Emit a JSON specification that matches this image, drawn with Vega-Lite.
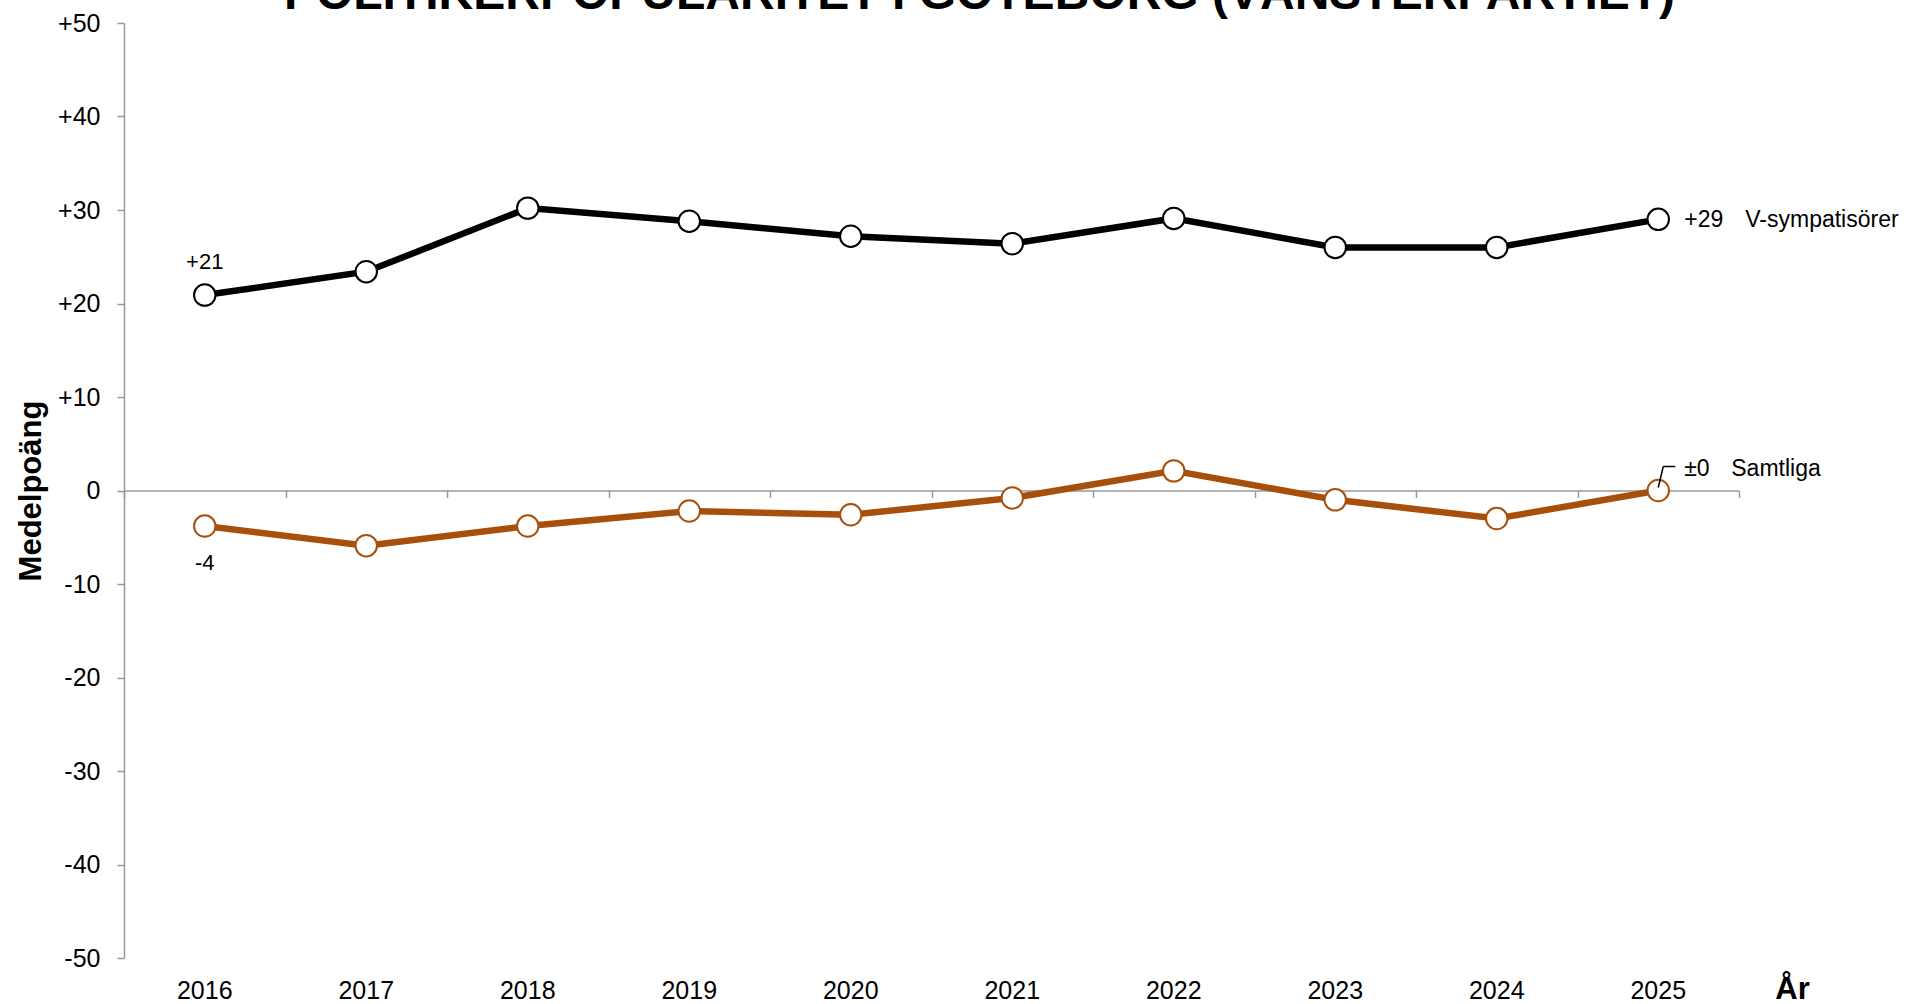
{
  "$schema": "https://vega.github.io/schema/vega-lite/v6.json",
  "width": 1615,
  "height": 935,
  "autosize": {"type": "none"},
  "padding": {"left": 124, "top": 23, "right": 180, "bottom": 46},
  "background": "white",
  "config": {
    "font": "Liberation Sans",
    "view": {"stroke": null},
    "text": {"font": "Liberation Sans", "color": "black"}
  },
  "title": {
    "text": "POLITIKERPOPULARITET I GÖTEBORG (VÄNSTERPARTIET)",
    "font": "Liberation Sans",
    "fontSize": 48,
    "fontWeight": "bold",
    "color": "black",
    "anchor": "middle",
    "frame": "group",
    "dx": 48,
    "offset": -46,
    "baseline": "alphabetic"
  },
  "datasets": {
    "series": [
      {"year": 2016, "series": "V-sympatisörer", "value": 20.9},
      {"year": 2017, "series": "V-sympatisörer", "value": 23.4},
      {"year": 2018, "series": "V-sympatisörer", "value": 30.2},
      {"year": 2019, "series": "V-sympatisörer", "value": 28.8},
      {"year": 2020, "series": "V-sympatisörer", "value": 27.2},
      {"year": 2021, "series": "V-sympatisörer", "value": 26.4},
      {"year": 2022, "series": "V-sympatisörer", "value": 29.1},
      {"year": 2023, "series": "V-sympatisörer", "value": 26.0},
      {"year": 2024, "series": "V-sympatisörer", "value": 26.0},
      {"year": 2025, "series": "V-sympatisörer", "value": 29.0},
      {"year": 2016, "series": "Samtliga", "value": -3.8},
      {"year": 2017, "series": "Samtliga", "value": -5.9},
      {"year": 2018, "series": "Samtliga", "value": -3.8},
      {"year": 2019, "series": "Samtliga", "value": -2.2},
      {"year": 2020, "series": "Samtliga", "value": -2.6},
      {"year": 2021, "series": "Samtliga", "value": -0.8},
      {"year": 2022, "series": "Samtliga", "value": 2.1},
      {"year": 2023, "series": "Samtliga", "value": -1.0},
      {"year": 2024, "series": "Samtliga", "value": -3.0},
      {"year": 2025, "series": "Samtliga", "value": 0.0}
    ],
    "above": [{"year": 2016, "value": 20.9, "text": "+21"}],
    "below": [{"year": 2016, "value": -3.8, "text": "-4"}],
    "vnum": [{"year": 2025, "value": 29.0, "text": "+29"}],
    "vname": [{"year": 2025, "value": 29.0, "text": "V-sympatisörer"}],
    "snum": [{"year": 2025, "value": 0.0, "text": "±0"}],
    "sname": [{"year": 2025, "value": 0.0, "text": "Samtliga"}]
  },
  "resolve": {"axis": {"x": "independent"}},
  "layer": [
    {
      "data": {"name": "series"},
      "mark": {"type": "line", "strokeWidth": 6.5},
      "encoding": {
        "x": {
          "field": "year", "type": "ordinal",
          "scale": {"type": "band", "paddingInner": 0, "paddingOuter": 0},
          "axis": {
            "orient": "bottom", "domain": false, "ticks": false, "grid": false,
            "labelAngle": 0, "labelFontSize": 25, "labelPadding": 20, "labelColor": "black",
            "labelFont": "Liberation Sans",
            "title": "År", "titleFont": "Liberation Sans", "titleFontSize": 31, "titleFontWeight": "bold",
            "titleColor": "black", "titleX": 1668, "titleY": 40, "titleAlign": "center",
            "titleBaseline": "alphabetic"
          }
        },
        "y": {
          "field": "value", "type": "quantitative",
          "scale": {"domain": [-50, 50], "nice": false, "zero": false},
          "axis": {
            "values": [-50, -40, -30, -20, -10, 0, 10, 20, 30, 40, 50],
            "labelExpr": "datum.value > 0 ? '+' + datum.value : '' + datum.value",
            "labelFontSize": 25, "labelPadding": 17, "labelColor": "black", "labelFont": "Liberation Sans",
            "tickSize": 7, "tickColor": "#999999", "tickWidth": 1.5,
            "domainColor": "#999999", "domainWidth": 1.5, "grid": false,
            "title": "Medelpoäng", "titleFont": "Liberation Sans", "titleFontSize": 31, "titleFontWeight": "bold",
            "titleColor": "black", "titleX": -93, "titleY": 467.5, "titleAngle": -90,
            "titleAlign": "center", "titleBaseline": "middle"
          }
        },
        "color": {
          "field": "series", "type": "nominal",
          "scale": {"domain": ["V-sympatisörer", "Samtliga"], "range": ["#000000", "#a84f0c"]},
          "legend": null
        }
      }
    },
    {
      "data": {"name": "series"},
      "mark": {"type": "point", "shape": "circle", "filled": false, "fill": "white", "fillOpacity": 1, "opacity": 1, "size": 460, "strokeWidth": 2},
      "encoding": {
        "x": {
          "field": "year", "type": "ordinal",
          "axis": {
            "orient": "bottom", "offset": -467.5, "labels": false, "title": null,
            "domain": true, "domainColor": "#999999", "domainWidth": 1.5,
            "ticks": true, "tickBand": "extent", "tickSize": 7, "tickColor": "#999999", "tickWidth": 1.5,
            "grid": false
          }
        },
        "y": {"field": "value", "type": "quantitative"},
        "color": {
          "field": "series", "type": "nominal",
          "scale": {"domain": ["V-sympatisörer", "Samtliga"], "range": ["#000000", "#a84f0c"]},
          "legend": null
        }
      }
    },
    {
      "data": {"name": "above"},
      "mark": {"type": "text", "fontSize": 22, "align": "center", "baseline": "alphabetic", "dy": -26},
      "encoding": {
        "x": {"field": "year", "type": "ordinal", "axis": null},
        "y": {"field": "value", "type": "quantitative"},
        "text": {"field": "text"}
      }
    },
    {
      "data": {"name": "below"},
      "mark": {"type": "text", "fontSize": 22, "align": "center", "baseline": "alphabetic", "dy": 44},
      "encoding": {
        "x": {"field": "year", "type": "ordinal", "axis": null},
        "y": {"field": "value", "type": "quantitative"},
        "text": {"field": "text"}
      }
    },
    {
      "data": {"name": "vnum"},
      "mark": {"type": "text", "fontSize": 23, "align": "left", "baseline": "middle", "dx": 26, "dy": 1},
      "encoding": {
        "x": {"field": "year", "type": "ordinal", "axis": null},
        "y": {"field": "value", "type": "quantitative"},
        "text": {"field": "text"}
      }
    },
    {
      "data": {"name": "vname"},
      "mark": {"type": "text", "fontSize": 23, "align": "left", "baseline": "middle", "dx": 87, "dy": 1},
      "encoding": {
        "x": {"field": "year", "type": "ordinal", "axis": null},
        "y": {"field": "value", "type": "quantitative"},
        "text": {"field": "text"}
      }
    },
    {
      "data": {"name": "snum"},
      "mark": {"type": "text", "fontSize": 23, "align": "left", "baseline": "middle", "dx": 26, "dy": -22},
      "encoding": {
        "x": {"field": "year", "type": "ordinal", "axis": null},
        "y": {"field": "value", "type": "quantitative"},
        "text": {"field": "text"}
      }
    },
    {
      "data": {"name": "sname"},
      "mark": {"type": "text", "fontSize": 23, "align": "left", "baseline": "middle", "dx": 73, "dy": -22},
      "encoding": {
        "x": {"field": "year", "type": "ordinal", "axis": null},
        "y": {"field": "value", "type": "quantitative"},
        "text": {"field": "text"}
      }
    },
    {
      "data": {"name": "snum"},
      "mark": {"type": "rule", "color": "black", "strokeWidth": 1.5, "yOffset": -3, "x2Offset": 5, "y2Offset": -24},
      "encoding": {
        "x": {"field": "year", "type": "ordinal", "axis": null},
        "x2": {"field": "year"},
        "y": {"field": "value", "type": "quantitative"},
        "y2": {"field": "value"}
      }
    },
    {
      "data": {"name": "snum"},
      "mark": {"type": "rule", "color": "black", "strokeWidth": 1.5, "xOffset": 5, "yOffset": -24, "x2Offset": 17, "y2Offset": -24},
      "encoding": {
        "x": {"field": "year", "type": "ordinal", "axis": null},
        "x2": {"field": "year"},
        "y": {"field": "value", "type": "quantitative"},
        "y2": {"field": "value"}
      }
    }
  ]
}
